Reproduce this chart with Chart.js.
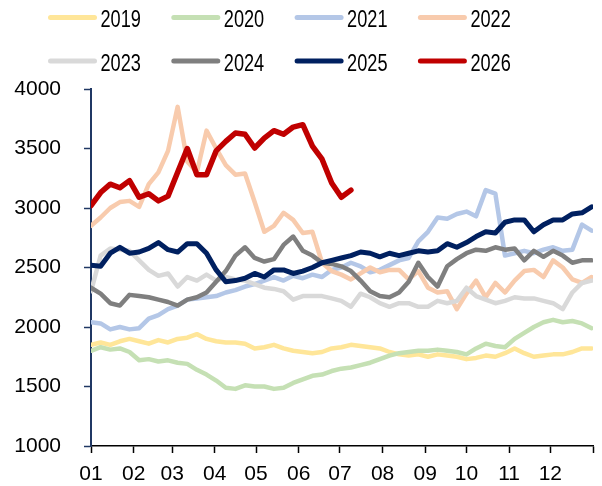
<!DOCTYPE html>
<html><head><meta charset="utf-8">
<script src="https://cdn.jsdelivr.net/npm/chart.js@4.4.1/dist/chart.umd.min.js"></script>
<style>html,body{margin:0;padding:0;background:#fff;}#wrap{width:602px;height:486px;}</style>
</head><body><div id="wrap"><canvas id="c" width="602" height="486"></canvas></div>
<script>
// Day-of-year positions (weekly samples)
const days = [0,7,14,21,28,35,42,49,56,63,70,77,84,91,98,105,112,119,126,133,140,147,154,161,168,175,182,189,196,203,210,217,224,231,238,245,252,259,266,273,280,287,294,301,308,315,322,329,336,343,350,357,364];
const monthStarts = [0,31,59,90,120,151,181,212,243,273,304,334,365];
const monthLabels = ['01','02','03','04','05','06','07','08','09','10','11','12',''];
const yTicks = [1000,1500,2000,2500,3000,3500,4000];
const years = ['2019','2020','2021','2022','2023','2024','2025','2026'];

const v2019 = [1850,1870,1850,1880,1900,1880,1860,1890,1870,1900,1910,1940,1900,1880,1870,1870,1860,1820,1830,1850,1820,1800,1790,1780,1790,1820,1830,1850,1840,1830,1820,1790,1770,1760,1770,1750,1770,1760,1750,1730,1740,1760,1750,1780,1820,1780,1750,1760,1770,1770,1790,1820,1820];
const v2020 = [1800,1830,1810,1820,1790,1720,1730,1710,1720,1700,1690,1640,1600,1550,1490,1480,1510,1500,1500,1480,1490,1530,1560,1590,1600,1630,1650,1660,1680,1700,1730,1760,1780,1790,1800,1800,1810,1800,1790,1770,1820,1860,1840,1830,1900,1950,2000,2040,2060,2040,2050,2030,1990];
const v2021 = [2040,2030,1980,2000,1980,1990,2070,2100,2150,2180,2230,2240,2250,2260,2290,2310,2340,2360,2390,2420,2390,2430,2410,2440,2420,2480,2500,2540,2510,2460,2480,2520,2560,2580,2720,2800,2920,2910,2950,2970,2930,3150,3120,2600,2620,2640,2620,2650,2670,2640,2650,2860,2810];
const v2022 = [2850,2920,3000,3050,3060,3010,3200,3300,3480,3850,3390,3300,3650,3500,3360,3280,3290,3050,2800,2850,2960,2900,2790,2800,2540,2470,2440,2400,2450,2500,2460,2480,2480,2400,2470,2330,2290,2300,2150,2280,2390,2250,2370,2290,2390,2470,2480,2420,2560,2500,2400,2370,2420];
const v2023 = [2300,2600,2660,2650,2640,2560,2480,2430,2450,2340,2420,2390,2440,2390,2420,2400,2390,2360,2330,2320,2300,2230,2260,2260,2260,2240,2220,2170,2280,2250,2200,2170,2200,2200,2170,2170,2220,2200,2220,2330,2260,2230,2200,2220,2250,2240,2240,2220,2200,2150,2290,2370,2390];
const v2024 = [2330,2280,2200,2180,2270,2260,2250,2230,2210,2180,2230,2250,2290,2380,2470,2600,2670,2580,2550,2570,2690,2760,2640,2600,2540,2530,2510,2470,2390,2300,2260,2250,2290,2380,2540,2420,2340,2510,2570,2620,2650,2640,2670,2650,2660,2560,2640,2590,2640,2600,2540,2560,2560];
const v2025 = [2520,2510,2620,2670,2620,2630,2660,2710,2650,2630,2700,2700,2620,2480,2380,2390,2410,2450,2420,2480,2480,2450,2470,2500,2540,2560,2580,2600,2630,2620,2590,2620,2600,2620,2640,2630,2640,2700,2670,2710,2760,2800,2790,2880,2900,2900,2800,2860,2900,2900,2950,2960,3010];
const v2026 = [3020,3130,3200,3170,3230,3090,3120,3060,3100,3300,3500,3280,3280,3480,3560,3630,3620,3504,3587,3650,3620,3680,3700,3520,3410,3210,3090,3150];

const seriesValues = [v2019,v2020,v2021,v2022,v2023,v2024,v2025,v2026];
const seriesColors = ['#FFE699','#C5E0B4','#B4C7E7','#F8CBAD','#D9D9D9','#7F7F7F','#002060','#C00000'];
const seriesWidths = [4.5,4.5,4.5,4.5,4.5,4.5,5,5.5];

const datasets = years.map((yr, i) => ({
  label: yr,
  data: seriesValues[i].map((v, k) => ({x: days[k], y: v})),
  borderColor: seriesColors[i],
  backgroundColor: seriesColors[i],
  borderWidth: seriesWidths[i],
  pointRadius: 0,
  tension: 0,
  borderJoinStyle: 'round',
  borderCapStyle: 'round',
  fill: false,
  order: years.length - 1 - i
}));

const rowLegend = {
  id: 'rowLegend',
  afterDraw(chart) {
    const ctx = chart.ctx;
    chart.data.datasets.forEach((ds, i) => {
      const col = i % 4, row = Math.floor(i / 4);
      const x0 = 50.5 + col * 123.3;
      const yLine = 17.5 + row * 43.5;
      ctx.save();
      ctx.strokeStyle = ds.borderColor;
      ctx.lineWidth = 5;
      ctx.lineCap = 'round';
      ctx.beginPath(); ctx.moveTo(x0, yLine); ctx.lineTo(x0 + 44, yLine); ctx.stroke();
      ctx.fillStyle = '#000';
      ctx.font = '23px "Liberation Sans", Arial, sans-serif';
      ctx.textBaseline = 'alphabetic';
      ctx.textAlign = 'left';
      ctx.translate(x0 + 50, 27 + row * 43.5);
      ctx.scale(0.79, 1);
      ctx.fillText(ds.label, 0, 0);
      ctx.restore();
    });
  }
};

const tickFont = {family: '"Liberation Sans", Arial, sans-serif', size: 21};

new Chart(document.getElementById('c'), {
  type: 'line',
  data: {datasets},
  plugins: [rowLegend],
  options: {
    responsive: false,
    animation: false,
    devicePixelRatio: 1,
    layout: {padding: {top: 89, right: 2, bottom: 0, left: 0}},
    plugins: {legend: {display: false}, tooltip: {enabled: false}},
    scales: {
      x: {
        type: 'linear', min: 0, max: 365,
        afterBuildTicks: s => { s.ticks = monthStarts.map(v => ({value: v})); },
        afterFit: s => { s.height = 40; },
        ticks: {autoSkip: false, maxRotation: 0, padding: 9, color: '#000', font: tickFont,
          callback: (v, i) => monthLabels[i]},
        grid: {drawOnChartArea: false, drawTicks: true, tickLength: 7, tickColor: '#000', tickWidth: 1.5},
        border: {display: true, color: '#000', width: 1.5}
      },
      y: {
        min: 1000, max: 4000,
        afterBuildTicks: s => { s.ticks = yTicks.map(v => ({value: v})); },
        afterFit: s => { s.width = 91; },
        ticks: {padding: 23, color: '#000', font: tickFont, callback: v => String(v)},
        grid: {drawOnChartArea: false, drawTicks: true, tickLength: 7, tickColor: '#203864', tickWidth: 1.5},
        border: {display: true, color: '#203864', width: 2}
      }
    }
  }
});
</script>
</body></html>
